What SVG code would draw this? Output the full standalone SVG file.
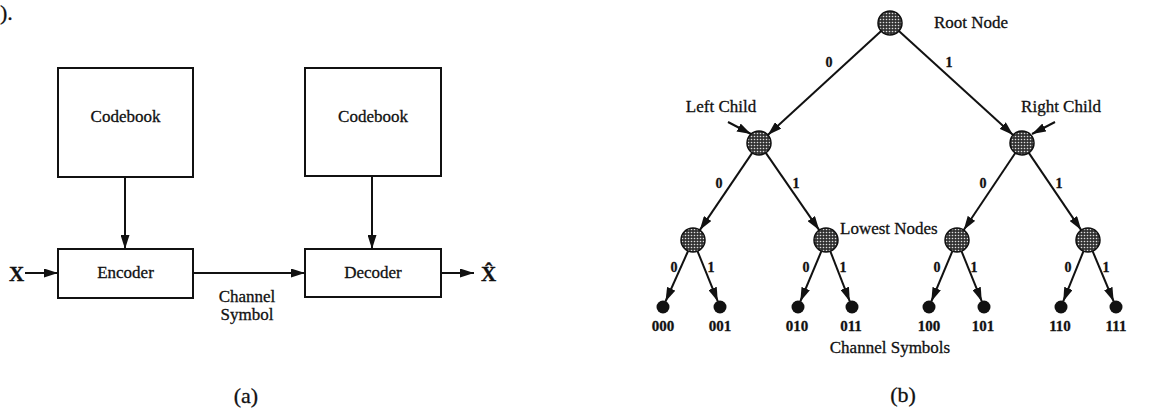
<svg xmlns="http://www.w3.org/2000/svg" width="1172" height="410" viewBox="0 0 1172 410">
<style>
.t{font-family:"Liberation Serif","Times New Roman",serif;fill:#111;stroke:#111;stroke-width:0.3;}
.box{fill:#fff;stroke:#111;stroke-width:2;}
.ln{stroke:#111;stroke-width:2;fill:none;}
.nd{fill:url(#dots);stroke:#111;stroke-width:1.5;}
.lf{fill:#111;stroke:none;}
</style>
<defs>
<marker id="ah" markerUnits="userSpaceOnUse" markerWidth="15" markerHeight="9" refX="14" refY="4.5" orient="auto">
<path d="M0,0 L14,4.5 L0,9 Z" fill="#111"/>
</marker>
<pattern id="dots" width="3" height="3" patternUnits="userSpaceOnUse">
<rect width="3" height="3" fill="#333"/>
<circle cx="1.5" cy="1.5" r="0.8" fill="#ddd"/>
</pattern>
</defs>
<rect width="1172" height="410" fill="#fff"/>
<text class="t" x="0" y="20" font-size="22">).</text>

<g id="codebook1"><rect class="box" x="58" y="68" width="135" height="109"/><text class="t" x="125.5" y="122" font-size="17" text-anchor="middle">Codebook</text></g>
<g id="codebook2"><rect class="box" x="305" y="68" width="136" height="108"/><text class="t" x="373" y="122" font-size="17" text-anchor="middle">Codebook</text></g>
<g id="encoder"><rect class="box" x="58" y="249" width="135" height="49"/><text class="t" x="125.5" y="278" font-size="17" text-anchor="middle">Encoder</text></g>
<g id="decoder"><rect class="box" x="305" y="249" width="136" height="48"/><text class="t" x="373" y="278" font-size="17" text-anchor="middle">Decoder</text></g>
<g id="input"><text class="t" x="9" y="281" font-size="21" font-weight="bold">X</text></g>
<g id="output"><text class="t" x="481" y="281" font-size="21" font-weight="bold">X̂</text></g>
<g id="label-a"><text class="t" x="246" y="403" font-size="22" text-anchor="middle">(a)</text></g>

<g id="connectors-a">
<line class="ln" x1="125" y1="177" x2="125" y2="249" marker-end="url(#ah)"/>
<line class="ln" x1="372" y1="176" x2="372" y2="249" marker-end="url(#ah)"/>
<line class="ln" x1="25" y1="273" x2="58" y2="273" marker-end="url(#ah)"/>
<line class="ln" x1="193" y1="273" x2="305" y2="273" marker-end="url(#ah)"/>
<line class="ln" x1="441" y1="273" x2="474" y2="273" marker-end="url(#ah)"/>
<text class="t" x="247" y="302" font-size="17" text-anchor="middle">Channel</text>
<text class="t" x="247" y="320" font-size="17" text-anchor="middle">Symbol</text>
</g>

<g id="connectors-b">
<line class="ln" x1="881.2" y1="31.1" x2="767.8" y2="134.9" marker-end="url(#ah)"/>
<line class="ln" x1="898.9" y1="31.1" x2="1013.1" y2="134.9" marker-end="url(#ah)"/>
<line class="ln" x1="752.2" y1="152.9" x2="699.8" y2="230.1" marker-end="url(#ah)"/>
<line class="ln" x1="765.8" y1="152.9" x2="819.2" y2="230.1" marker-end="url(#ah)"/>
<line class="ln" x1="1015.3" y1="153" x2="963.7" y2="230" marker-end="url(#ah)"/>
<line class="ln" x1="1028.8" y1="152.9" x2="1081.2" y2="230.1" marker-end="url(#ah)"/>
<line class="ln" x1="688.1" y1="251" x2="665.5" y2="301.5" marker-end="url(#ah)"/>
<line class="ln" x1="697.5" y1="251.1" x2="717.8" y2="301.4" marker-end="url(#ah)"/>
<line class="ln" x1="821.4" y1="251.1" x2="800.3" y2="301.5" marker-end="url(#ah)"/>
<line class="ln" x1="830.3" y1="251.2" x2="849.8" y2="301.4" marker-end="url(#ah)"/>
<line class="ln" x1="952.4" y1="251.1" x2="931.3" y2="301.5" marker-end="url(#ah)"/>
<line class="ln" x1="961.5" y1="251.1" x2="981.8" y2="301.4" marker-end="url(#ah)"/>
<line class="ln" x1="1083.5" y1="251.1" x2="1063.2" y2="301.4" marker-end="url(#ah)"/>
<line class="ln" x1="1092.6" y1="251.1" x2="1113.7" y2="301.5" marker-end="url(#ah)"/>
<line class="ln" x1="728" y1="122" x2="751" y2="134" marker-end="url(#ah)"/>
<line class="ln" x1="1055" y1="122" x2="1032" y2="134" marker-end="url(#ah)"/>
<g class="t" font-size="14" font-weight="bold" text-anchor="middle">
<text x="829" y="67">0</text><text x="949" y="67">1</text>
<text x="719" y="188">0</text><text x="796" y="188">1</text>
<text x="983" y="188">0</text><text x="1059" y="188">1</text>
<text x="674" y="272">0</text><text x="711" y="272">1</text>
<text x="806" y="272">0</text><text x="843" y="272">1</text>
<text x="937" y="272">0</text><text x="974" y="272">1</text>
<text x="1068" y="272">0</text><text x="1106" y="272">1</text>
</g>
</g>

<g id="root"><circle class="nd" cx="890" cy="23" r="12"/><text class="t" x="934" y="28" font-size="17">Root Node</text></g>
<g id="left-child"><circle class="nd" cx="759" cy="143" r="12"/><text class="t" x="721" y="112" font-size="17" text-anchor="middle">Left Child</text></g>
<g id="right-child"><circle class="nd" cx="1022" cy="143" r="12"/><text class="t" x="1061" y="112" font-size="17" text-anchor="middle">Right Child</text></g>
<g id="n00"><circle class="nd" cx="693" cy="240" r="12"/></g>
<g id="n01"><circle class="nd" cx="826" cy="240" r="12"/><text class="t" x="840" y="234" font-size="17">Lowest Nodes</text></g>
<g id="n10"><circle class="nd" cx="957" cy="240" r="12"/></g>
<g id="n11"><circle class="nd" cx="1088" cy="240" r="12"/></g>
<g class="t" font-size="15" font-weight="bold" text-anchor="middle">
<g id="l000"><circle class="lf" cx="663" cy="307" r="6.5"/><text x="663" y="331">000</text></g>
<g id="l001"><circle class="lf" cx="720" cy="307" r="6.5"/><text x="720" y="331">001</text></g>
<g id="l010"><circle class="lf" cx="798" cy="307" r="6.5"/><text x="797" y="331">010</text></g>
<g id="l011"><circle class="lf" cx="852" cy="307" r="6.5"/><text x="851" y="331">011</text></g>
<g id="l100"><circle class="lf" cx="929" cy="307" r="6.5"/><text x="929" y="331">100</text></g>
<g id="l101"><circle class="lf" cx="984" cy="307" r="6.5"/><text x="983" y="331">101</text></g>
<g id="l110"><circle class="lf" cx="1061" cy="307" r="6.5"/><text x="1060" y="331">110</text></g>
<g id="l111"><circle class="lf" cx="1116" cy="307" r="6.5"/><text x="1116" y="331">111</text></g>
</g>
<g id="channel-symbols"><text class="t" x="890" y="353" font-size="17" text-anchor="middle">Channel Symbols</text></g>
<g id="label-b"><text class="t" x="903" y="402" font-size="22" text-anchor="middle">(b)</text></g>
</svg>
